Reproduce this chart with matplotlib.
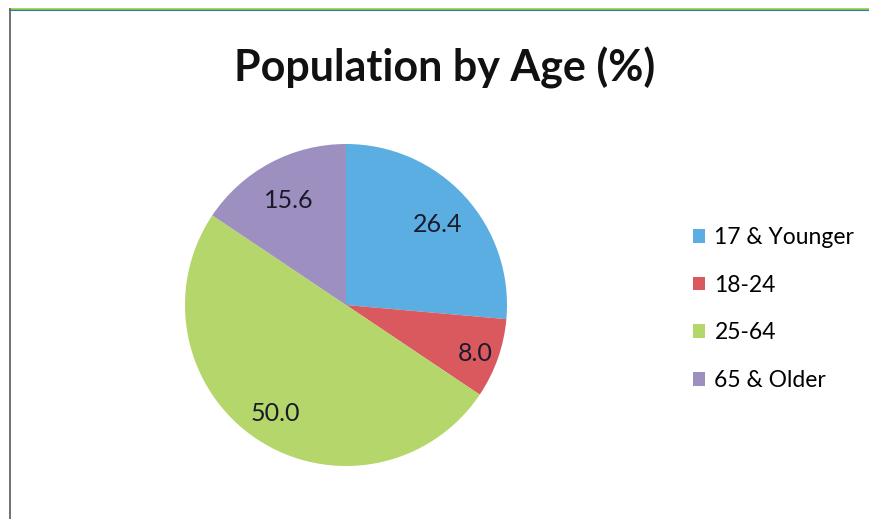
import matplotlib
matplotlib.use("Agg")
import matplotlib.pyplot as plt
import numpy as np
from matplotlib.lines import Line2D

plt.rcParams['font.family'] = ['Lato', 'DejaVu Sans']

groups = ["17 & Younger", "18-24", "25-64", "65 & Older"]
shares = [26.4, 8.0, 50.0, 15.6]
colors = ["#5BAEE2", "#D9595F", "#B4D66B", "#9D90C0"]
label_dist = [0.77, 0.85, 0.79, 0.76]

W, H = 869, 519
fig = plt.figure(figsize=(W / 100, H / 100), dpi=100)

# pie axes: centre (346, 305) px, radius 161 px
cx, cy, r = 346, 305, 161
ax = fig.add_axes([(cx - r) / W, (H - cy - r) / H, 2 * r / W, 2 * r / H])
wedges, _ = ax.pie(shares, colors=colors, startangle=90, counterclock=False,
                   radius=1, wedgeprops=dict(linewidth=0))
ax.set_xlim(-1, 1)
ax.set_ylim(-1, 1)
ax.set_aspect("equal")
ax.axis("off")

for w, v, d in zip(wedges, shares, label_dist):
    ang = np.deg2rad((w.theta1 + w.theta2) / 2)
    ax.text(d * np.cos(ang), d * np.sin(ang) - 0.02, f"{v:.1f}", ha="center", va="center",
            fontsize=18, color="#1a1a2a")

fig.text(445 / W, 1 - 68 / H, "Population by Age (%)", ha="center", va="center",
         fontsize=31, fontweight="bold", color="#111111")

fig.legend(wedges, groups, loc="center left", bbox_to_anchor=(672 / W, 1 - 309 / H),
           frameon=False, fontsize=16.5, handlelength=0.55, handleheight=0.55,
           handletextpad=0.4, labelspacing=1.17)

# frame border (top and left visible)
fig.add_artist(Line2D([10 / W, 1], [1 - 10 / H, 1 - 10 / H], transform=fig.transFigure,
                      color="#3a6fb0", lw=1.5))
fig.add_artist(Line2D([10 / W, 1], [1 - 8.5 / H, 1 - 8.5 / H], transform=fig.transFigure,
                      color="#8fd43a", lw=1.2))
fig.add_artist(Line2D([10 / W, 10 / W], [0, 1 - 9 / H], transform=fig.transFigure,
                      color="#666666", lw=1.3))

fig.savefig("out.png", dpi=100)
